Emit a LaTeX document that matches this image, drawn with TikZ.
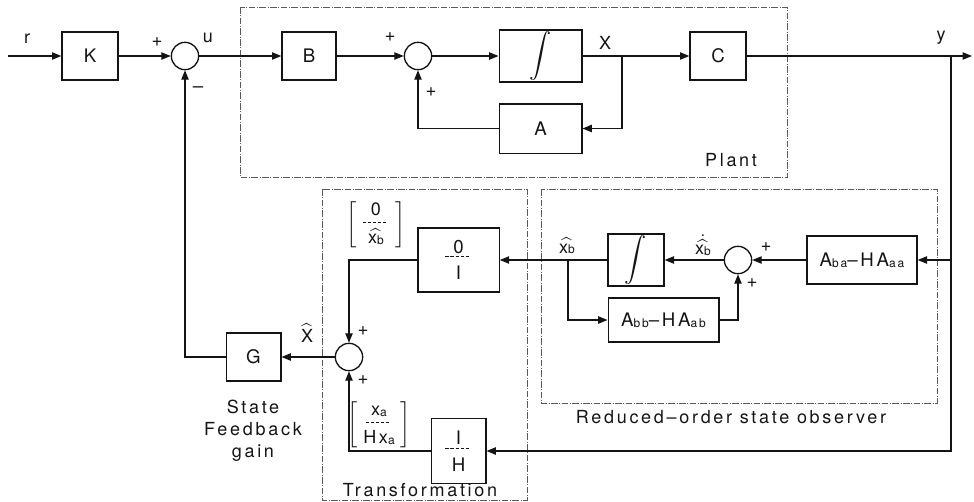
\documentclass[tikz,border=0pt]{standalone}
\usepackage{amsmath}
\usepackage{graphicx}
\usepackage{fontspec}
\setmainfont{TeX Gyre Heros}[LetterSpace=15]
\usetikzlibrary{arrows.meta}
\definecolor{Ink}{HTML}{141414}
\definecolor{Frame}{HTML}{5A5A5A}
\newcommand{\dashrule}{\hbox to 21pt{\leaders\hbox to 3.8pt{\hss\vrule height 0.6pt depth 0pt width 2.5pt\hss}\hfill}}
\newcommand{\dashfrac}[2]{#1\\[-13pt]\dashrule\\[1pt]#2}
\newcommand{\idx}[1]{\raisebox{-0.6pt}{\fontsize{9}{10}\selectfont #1}}
\newcommand{\colvec}[2]{$\left[\;\begin{array}{@{}c@{}}#1\\[-11pt]\dashrule\\[-1pt]#2\end{array}\;\right]$}
\newcommand{\integ}{\scalebox{1.15}{$\displaystyle\int$}}
\tikzset{
  block/.style={draw=Ink,line width=1pt,minimum height=36pt,align=center,inner sep=1pt,text=Ink,font=\fontsize{14}{16}\selectfont},
  sumnode/.style={draw=Ink,circle,line width=1pt,minimum size=20.5pt,inner sep=0pt},
  line/.style={-{Triangle[length=7pt,width=5.5pt]},draw=Ink,line width=0.9pt},
  groupbox/.style={draw=Frame,line width=0.5pt,dash pattern=on 5pt off 1.2pt on 0.6pt off 1.2pt},
  sign/.style={font=\fontsize{14}{16}\selectfont,text=Ink,inner sep=0pt},
  tag/.style={font=\fontsize{13.5}{16.5}\selectfont,text=Ink,inner sep=0pt,align=center}
}

\begin{document}
\begin{tikzpicture}[x=0.75pt,y=-0.75pt]
  \useasboundingbox (0,0) rectangle (974,501);
  % groups
  \draw[groupbox] (240,7) rectangle (787,177);
  \draw[groupbox] (322,189) rectangle (527,500);
  \draw[groupbox] (541,189) rectangle (937,403);
  % forward path
  \node[block,minimum width=42pt] (K) at (90,56) {K};
  \node[sumnode] (s1) at (185,56) {};
  \node[block,minimum width=40.5pt] (B) at (309,56) {B};
  \node[sumnode] (s2) at (418,56) {};
  \node[block,minimum width=62pt] (int1) at (540.5,56) {\integ};
  \node[block,minimum width=62pt,minimum height=37pt] (A) at (540.5,128.5) {A};
  \node[block,minimum width=42pt] (C) at (718,56) {C};
  % feedback side
  \node[block,minimum width=41pt] (G) at (253.5,357) {G};
  \node[sumnode] (s3) at (349,357) {};
  \node[block,minimum width=61pt,minimum height=48pt] (zeroI) at (458.5,260) {\dashfrac{0}{I}};
  \node[block,minimum width=41pt,minimum height=49pt] (IH) at (458.5,451) {\dashfrac{I}{H}};
  % observer
  \node[block,minimum width=42pt,minimum height=37pt] (int2) at (636,260) {\integ};
  \node[block,minimum width=83pt,minimum height=33pt] (Abb) at (663.5,320) {A\idx{bb}--HA\idx{ab}};
  \node[sumnode] (s4) at (738,260) {};
  \node[block,minimum width=82.5pt] (Aba) at (862,260) {A\idx{ba}--HA\idx{aa}};
  % branch points
  \coordinate (rin) at (8,56);
  \coordinate (xb) at (622,56);
  \coordinate (yb) at (951,56);
  \coordinate (yout) at (972,56);
  \coordinate (yobs) at (951,260);
  \coordinate (ybot) at (951,451);
  \coordinate (xbb) at (568,260);
  % connectors
  \draw[line] (rin) -- (K);
  \draw[line] (K) -- (s1);
  \draw[line] (s1) -- (B);
  \draw[line] (B) -- (s2);
  \draw[line] (s2) -- (int1);
  \draw[line] (int1) -- (C);
  \draw[line] (xb) |- (A);
  \draw[line] (A) -| (s2);
  \draw[line] (C) -- (yout);
  \draw[line] (yb) -- (ybot) -- (IH);
  \draw[line] (yobs) -- (Aba);
  \draw[line] (Aba) -- (s4);
  \draw[line] (s4) -- (int2);
  \draw[line] (int2) -- (zeroI);
  \draw[line] (xbb) |- (Abb);
  \draw[line] (Abb) -| (s4);
  \draw[line] (zeroI) -| (s3);
  \draw[line] (IH) -| (s3);
  \draw[line] (s3) -- (G);
  \draw[line] (G) -| (s1);
  % labels
  \node[tag] at (27,39) {r};
  \node[tag] at (208,38) {u};
  \node[tag] at (605,43) {X};
  \node[tag] at (941,38) {y};
  \node[sign] at (157,42) {+};
  \node[sign] at (198,90) {--};
  \node[sign] at (390,37) {+};
  \node[sign] at (431,92) {+};
  \node[sign] at (363,331) {+};
  \node[sign] at (363,380) {+};
  \node[sign] at (766,247) {+};
  \node[sign] at (752,283) {+};
  \node[tag] at (307,333) {$\widehat{\text{X}}$};
  \node[tag] at (567,246) {$\widehat{\text{x}\idx{b}}$};
  \node[tag] at (703,245) {$\dot{\widehat{\text{x}\idx{b}}}$};
  \node[tag] at (376,225) {\colvec{\text{0}}{\widehat{\text{x}\idx{b}}}};
  \node[tag] at (379,425) {\colvec{\text{x\idx{a}}}{\text{Hx\idx{a}}}};
  \node[tag] at (731,160) {Plant};
  \node[tag] at (253,431) {State\\Feedback\\gain};
  \node[tag] at (420,490) {Transformation};
  \node[tag] at (731,417) {Reduced--order state observer};
\end{tikzpicture}
\end{document}
